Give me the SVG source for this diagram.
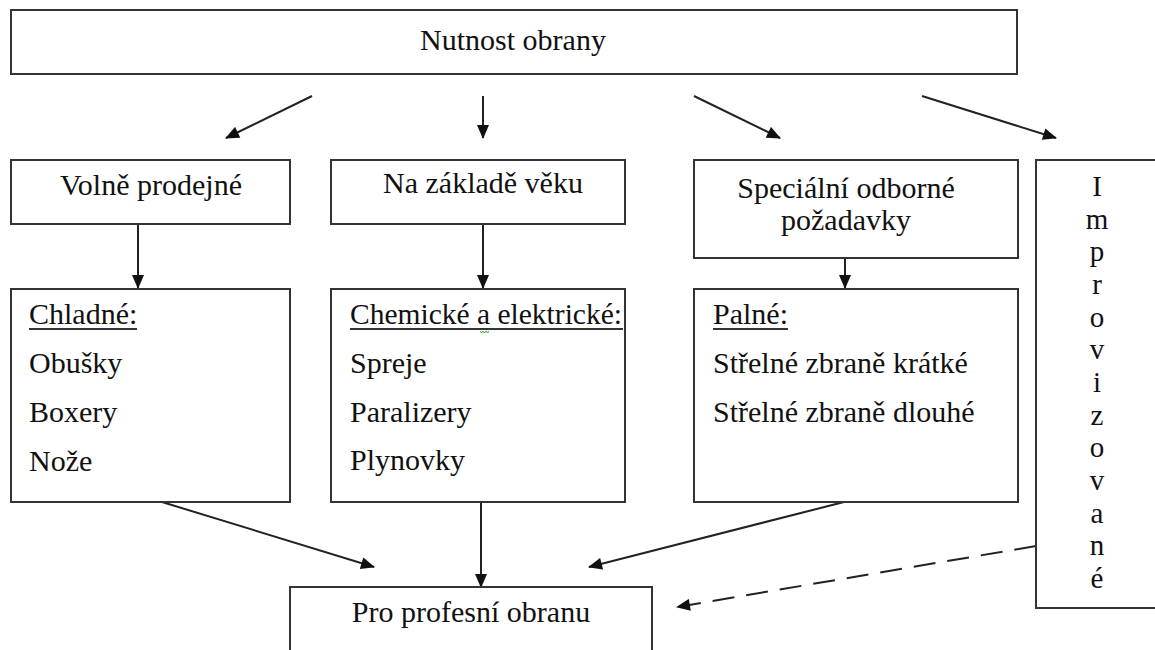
<svg xmlns="http://www.w3.org/2000/svg" width="1155" height="650" viewBox="0 0 1155 650">
<style>
.box{fill:#fff;stroke:#333;stroke-width:2}
.t{font-family:"Liberation Serif","Times New Roman",serif;font-size:30px;fill:#111}
.c{text-anchor:middle}
.v{font-family:"Liberation Serif","Times New Roman",serif;font-size:29px;fill:#111;text-anchor:middle}
.ln{stroke:#222;stroke-width:2;fill:none}
.u{stroke:#333;stroke-width:2}
</style>
<defs>
<marker id="ah" viewBox="0 0 14 12" refX="13" refY="6" markerWidth="15" markerHeight="12" markerUnits="userSpaceOnUse" orient="auto">
<path d="M0,0 L14,6 L0,12 Z" fill="#111"/>
</marker>
</defs>
<rect width="1155" height="650" fill="#fff"/>
<g id="connectors">
<line class="ln" x1="312" y1="96" x2="226" y2="138" marker-end="url(#ah)"/>
<line class="ln" x1="483" y1="96" x2="483" y2="138" marker-end="url(#ah)"/>
<line class="ln" x1="694" y1="96" x2="780" y2="138" marker-end="url(#ah)"/>
<line class="ln" x1="922" y1="96" x2="1056" y2="138" marker-end="url(#ah)"/>
<line class="ln" x1="138" y1="224" x2="138" y2="288" marker-end="url(#ah)"/>
<line class="ln" x1="483" y1="224" x2="483" y2="288" marker-end="url(#ah)"/>
<line class="ln" x1="845" y1="258" x2="845" y2="288" marker-end="url(#ah)"/>
<line class="ln" x1="162" y1="502" x2="374" y2="567" marker-end="url(#ah)"/>
<line class="ln" x1="481" y1="502" x2="481" y2="587" marker-end="url(#ah)"/>
<line class="ln" x1="844" y1="502" x2="589" y2="567" marker-end="url(#ah)"/>
<line class="ln" x1="1036" y1="546" x2="677" y2="607" stroke-dasharray="22,12" marker-end="url(#ah)"/>
</g>
<g id="nutnost">
<rect class="box" x="11" y="10" width="1006" height="64"/>
<text class="t c" x="513" y="50">Nutnost obrany</text>
</g>
<g id="volne">
<rect class="box" x="11" y="160" width="279" height="64"/>
<text class="t c" x="151" y="195">Volně prodejné</text>
</g>
<g id="vek">
<rect class="box" x="331" y="160" width="294" height="64"/>
<text class="t c" x="483" y="193">Na základě věku</text>
</g>
<g id="specialni">
<rect class="box" x="694" y="160" width="324" height="98"/>
<text class="t c" x="846" y="198">Speciální odborné</text>
<text class="t c" x="846" y="230">požadavky</text>
</g>
<g id="improvizovane">
<rect class="box" x="1036" y="160" width="130" height="448"/>
<text class="v" x="1097" y="196">I</text>
<text class="v" x="1097" y="228.7">m</text>
<text class="v" x="1097" y="261.3">p</text>
<text class="v" x="1097" y="294">r</text>
<text class="v" x="1097" y="326.7">o</text>
<text class="v" x="1097" y="359.3">v</text>
<text class="v" x="1097" y="392">i</text>
<text class="v" x="1097" y="424.7">z</text>
<text class="v" x="1097" y="457.3">o</text>
<text class="v" x="1097" y="490">v</text>
<text class="v" x="1097" y="522.7">a</text>
<text class="v" x="1097" y="555.3">n</text>
<text class="v" x="1097" y="588">é</text>
</g>
<g id="chladne">
<rect class="box" x="11" y="289" width="279" height="213"/>
<text class="t" x="29" y="324">Chladné:</text>
<line class="u" x1="29" y1="329" x2="137" y2="329"/>
<text class="t" x="29" y="373">Obušky</text>
<text class="t" x="29" y="422">Boxery</text>
<text class="t" x="29" y="471">Nože</text>
</g>
<g id="chemicke">
<rect class="box" x="331" y="289" width="294" height="213"/>
<text class="t" x="350" y="324" textLength="272" lengthAdjust="spacingAndGlyphs">Chemické a elektrické:</text>
<line class="u" x1="350" y1="329" x2="623" y2="329"/>
<path d="M480,331 l1.5,2 l1.5,-2 l1.5,2 l1.5,-2 l1.5,2 l1.5,-2" stroke="#3a3" stroke-width="1" fill="none"/>
<text class="t" x="350" y="373">Spreje</text>
<text class="t" x="350" y="422">Paralizery</text>
<text class="t" x="350" y="470">Plynovky</text>
</g>
<g id="palne">
<rect class="box" x="694" y="289" width="324" height="213"/>
<text class="t" x="713" y="324">Palné:</text>
<line class="u" x1="713" y1="329" x2="788" y2="329"/>
<text class="t" x="713" y="373">Střelné zbraně krátké</text>
<text class="t" x="713" y="422">Střelné zbraně dlouhé</text>
</g>
<g id="profesni">
<rect class="box" x="290" y="587" width="362" height="80"/>
<text class="t c" x="471" y="622">Pro profesní obranu</text>
</g>
</svg>
